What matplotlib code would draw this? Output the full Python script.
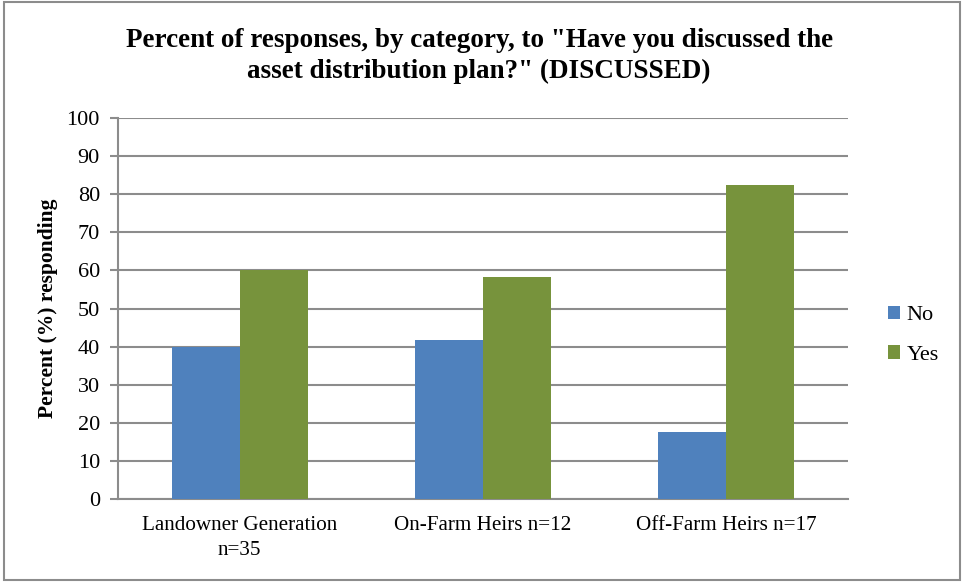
import matplotlib.pyplot as plt
import numpy as np

plt.rcParams['font.family'] = ['Liberation Serif', 'DejaVu Serif']

categories = ['Landowner Generation\nn=35', 'On-Farm Heirs n=12', 'Off-Farm Heirs n=17']
no_vals = [40.0, 41.67, 17.65]
yes_vals = [60.0, 58.33, 82.35]
yticks = list(range(0, 101, 10))

fig = plt.figure(figsize=(9.64, 5.82), dpi=100)
ax = fig.add_axes([118 / 964, 1 - 499 / 582, (848 - 118) / 964, (499 - 118) / 582])

x = np.arange(len(categories))
w = 0.28
ax.bar(x - w / 2, no_vals, w, color='#4F81BD', label='No', zorder=3)
ax.bar(x + w / 2, yes_vals, w, color='#77933C', label='Yes', zorder=3)

ax.set_xlim(-0.5, 2.5)
ax.set_ylim(0, 100)
ax.set_yticks(yticks)
ax.set_xticks(x)
ax.set_xticklabels(categories, fontsize=15.2, linespacing=1.45)
ax.tick_params(axis='y', labelsize=16, length=6, width=1.5, color='#8c8c8c', direction='out', pad=7)
ax.tick_params(axis='x', length=0, pad=12)
ax.grid(axis='y', color='#8c8c8c', linewidth=1.5, zorder=0)
for s in ['top', 'right']:
    ax.spines[s].set_visible(False)
for s in ['left', 'bottom']:
    ax.spines[s].set_color('#8c8c8c')
    ax.spines[s].set_linewidth(1.5)

ax.set_ylabel('Percent (%) responding', fontsize=15.5, fontweight='bold', labelpad=6)
fig.suptitle('Percent of responses, by category, to "Have you discussed the\nasset distribution plan?" (DISCUSSED)',
             fontsize=19.5, fontweight='bold', x=0.497, y=0.952, linespacing=1.3)

ax.legend(loc='center left', bbox_to_anchor=(1.027, 0.43), frameon=False, fontsize=16,
          handlelength=0.55, handleheight=0.55, handletextpad=0.3, labelspacing=0.9)

fig.patches.append(plt.Rectangle((0.004, 0.004), 0.992, 0.992, transform=fig.transFigure,
                                 fill=False, edgecolor='#8c8c8c', linewidth=1.5))

fig.savefig('out.png', dpi=100)
